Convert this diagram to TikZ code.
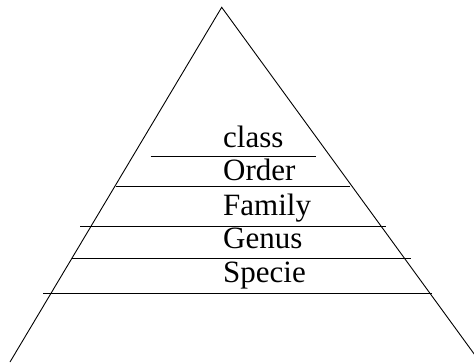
\documentclass[tikz,border=0pt]{standalone}
\usepackage{fontspec}
\setmainfont{Liberation Serif}
\tikzset{
  sideline/.style={line width=0.9pt, black},
  rankline/.style={line width=0.9pt, black},
  ranklabel/.style={anchor=base west, inner sep=0pt, font=\fontsize{31}{36}\selectfont},
}
\begin{document}
\begin{tikzpicture}[x=1pt, y=-1pt]
  \useasboundingbox (0,0) rectangle (474,362);
  \clip (0,0) rectangle (474,362);

  % Pyramid sides
  \coordinate (apex) at (221.7,7.3);
  \draw[sideline] (10,362) -- (apex) -- (480,362);

  % Rank separators
  \foreach \y/\xa/\xb in {156.7/150.5/316, 186.5/115.5/350, 226.7/80/386, 258/71.5/410.7, 293.3/43.3/432} {
    \draw[rankline] (\xa,\y) -- (\xb,\y);
  }

  % Rank labels
  \foreach \n/\y/\txt in {class/147/class, order/180.5/Order, family/215/Family, genus/248.5/Genus, specie/282.5/Specie} {
    \node[ranklabel] (\n) at (223,\y) {\txt};
  }
\end{tikzpicture}
\end{document}
